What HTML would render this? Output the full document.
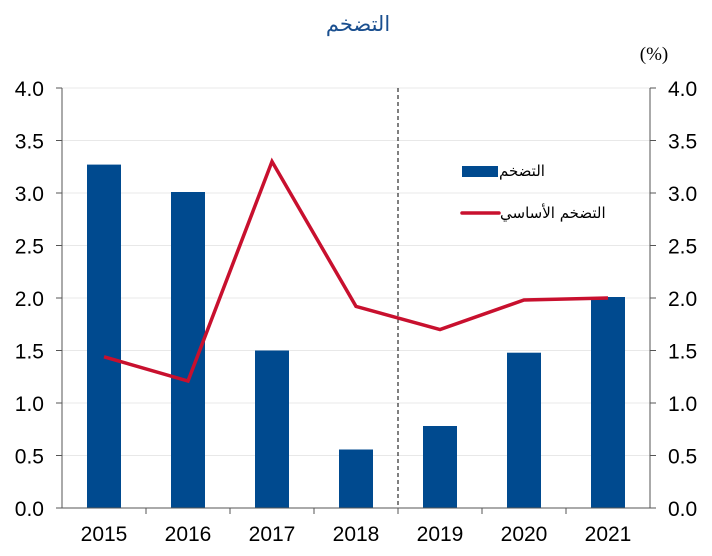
<!DOCTYPE html><html><head><meta charset="utf-8"><style>body{margin:0;background:#fff}</style></head><body>
<svg width="712" height="551" xmlns="http://www.w3.org/2000/svg" font-family="Liberation Sans, Noto Sans CJK SC, sans-serif">
<text x="358" y="31" text-anchor="middle" font-size="21" fill="#1a4f8f" font-family="DejaVu Sans, sans-serif">التضخم</text>
<text x="654" y="60" text-anchor="middle" font-size="19" font-family="Liberation Serif, serif">(%)</text>
<g stroke="#e8e8e8" stroke-width="1">
<line x1="62" x2="650" y1="88" y2="88"/><line x1="62" x2="650" y1="140.5" y2="140.5"/><line x1="62" x2="650" y1="193" y2="193"/><line x1="62" x2="650" y1="245.5" y2="245.5"/><line x1="62" x2="650" y1="298" y2="298"/><line x1="62" x2="650" y1="350.5" y2="350.5"/><line x1="62" x2="650" y1="403" y2="403"/><line x1="62" x2="650" y1="455.5" y2="455.5"/>
</g>
<g fill="#004a8f">
<rect x="87" y="164.6" width="34" height="343.4"/>
<rect x="171" y="192" width="34" height="316"/>
<rect x="255" y="350.5" width="34" height="157.5"/>
<rect x="339" y="449.5" width="34" height="58.5"/>
<rect x="423" y="426" width="34" height="82"/>
<rect x="507" y="352.7" width="34" height="155.3"/>
<rect x="591" y="297" width="34" height="211"/>
</g>
<line x1="398" y1="88" x2="398" y2="508" stroke="#000" stroke-dasharray="4,3"/>
<polyline fill="none" stroke="#c8102e" stroke-width="3.5" points="104,356.8 188,381 272,161.5 356,306.4 440,329.5 524,300 608,298"/>
<g stroke="#555" fill="none">
<line x1="62" y1="88" x2="62" y2="508"/><line x1="650" y1="88" x2="650" y2="508"/><line x1="62" y1="508" x2="650" y2="508"/>
</g>
<g stroke="#555">
<line x1="56" x2="62" y1="88" y2="88"/><line x1="56" x2="62" y1="140.5" y2="140.5"/><line x1="56" x2="62" y1="193" y2="193"/><line x1="56" x2="62" y1="245.5" y2="245.5"/><line x1="56" x2="62" y1="298" y2="298"/><line x1="56" x2="62" y1="350.5" y2="350.5"/><line x1="56" x2="62" y1="403" y2="403"/><line x1="56" x2="62" y1="455.5" y2="455.5"/><line x1="56" x2="62" y1="508" y2="508"/>
<line x1="650" x2="656" y1="88" y2="88"/><line x1="650" x2="656" y1="140.5" y2="140.5"/><line x1="650" x2="656" y1="193" y2="193"/><line x1="650" x2="656" y1="245.5" y2="245.5"/><line x1="650" x2="656" y1="298" y2="298"/><line x1="650" x2="656" y1="350.5" y2="350.5"/><line x1="650" x2="656" y1="403" y2="403"/><line x1="650" x2="656" y1="455.5" y2="455.5"/><line x1="650" x2="656" y1="508" y2="508"/>
<line x1="146" x2="146" y1="508" y2="514"/><line x1="230" x2="230" y1="508" y2="514"/><line x1="314" x2="314" y1="508" y2="514"/><line x1="398" x2="398" y1="508" y2="514"/><line x1="482" x2="482" y1="508" y2="514"/><line x1="566" x2="566" y1="508" y2="514"/>
</g>
<g font-size="21" text-anchor="end">
<text x="44" y="96">4.0</text><text x="44" y="148.5">3.5</text><text x="44" y="201">3.0</text><text x="44" y="253.5">2.5</text><text x="44" y="306">2.0</text><text x="44" y="358.5">1.5</text><text x="44" y="411">1.0</text><text x="44" y="463.5">0.5</text><text x="44" y="516">0.0</text>
</g>
<g font-size="21" text-anchor="start">
<text x="668" y="96">4.0</text><text x="668" y="148.5">3.5</text><text x="668" y="201">3.0</text><text x="668" y="253.5">2.5</text><text x="668" y="306">2.0</text><text x="668" y="358.5">1.5</text><text x="668" y="411">1.0</text><text x="668" y="463.5">0.5</text><text x="668" y="516">0.0</text>
</g>
<g font-size="21" text-anchor="middle">
<text x="104" y="541">2015</text><text x="188" y="541">2016</text><text x="272" y="541">2017</text><text x="356" y="541">2018</text><text x="440" y="541">2019</text><text x="524" y="541">2020</text><text x="608" y="541">2021</text>
</g>
<rect x="462" y="166" width="36" height="11" fill="#004a8f"/>
<text x="499" y="176" font-size="15" font-family="DejaVu Sans, sans-serif">التضخم</text>
<line x1="462" y1="213" x2="499" y2="213" stroke="#c8102e" stroke-width="3.5" stroke-linecap="round"/>
<text x="500" y="218" font-size="15" font-family="DejaVu Sans, sans-serif">التضخم الأساسي</text>
</svg></body></html>
